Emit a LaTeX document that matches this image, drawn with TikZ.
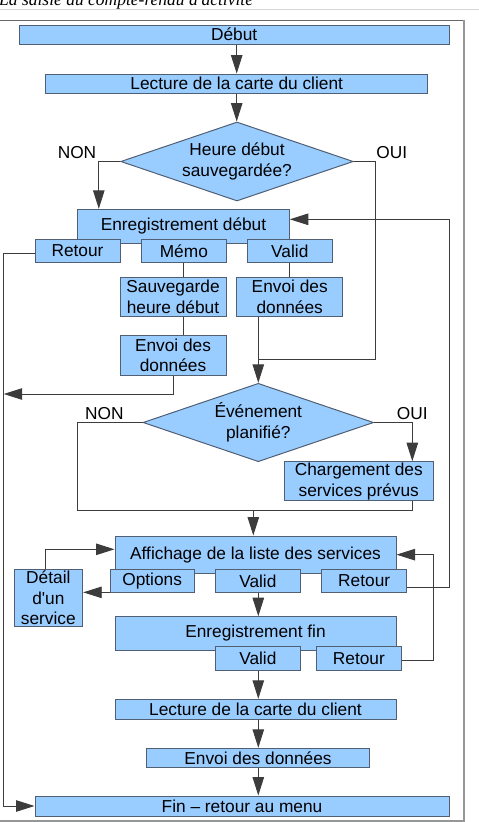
\documentclass[tikz,border=0pt]{standalone}
\usepackage{fontspec}
\setmainfont{Liberation Sans}
\newfontfamily\capfont{Liberation Serif}
\usetikzlibrary{arrows.meta,shapes.geometric}
\definecolor{boxc}{RGB}{153,204,255}
\definecolor{bordc}{RGB}{80,95,115}
\definecolor{linec}{RGB}{60,60,60}
\definecolor{framec}{RGB}{150,150,150}
\definecolor{sepc}{RGB}{215,215,215}
\newcommand{\fs}{\fontsize{17.3}{20.7}\selectfont}
\tikzset{
  box/.style={draw=bordc, fill=boxc, line width=1pt, inner sep=0pt, font=\fs, align=center},
  dia/.style={diamond, aspect=2.94, draw=bordc, fill=boxc, line width=1pt, inner sep=0pt, font=\fs, align=center},
  conn/.style={draw=linec, line width=0.9pt},
  arr/.style={conn, -{Triangle[length=18.5pt,width=11.5pt]}},
  lbl/.style={font=\fs, inner sep=0pt}
}
\begin{document}
\begin{tikzpicture}[x=1pt,y=-1pt]
\useasboundingbox (0,0) rectangle (479,822);
% caption and frame
\node[anchor=base west, inner sep=0pt, font=\capfont\itshape\fontsize{17.5}{21}\selectfont] (cap) at (-1,5) {La saisie du compte-rendu d'activité};
\draw[sepc, line width=1pt] (0,9.5) -- (479,9.5);
\draw[framec!70!black, line width=1pt] (-2,20.7) -- (464.3,20.7);
\draw[framec, line width=2pt] (464.3,20.2) -- (464.3,820.7) -- (-2,820.7);

% nodes
\node[box, minimum width=429.7pt, minimum height=19.3pt] (debut) at (234.2,34.7) {Début};
\node[box, minimum width=382pt, minimum height=19.3pt] (lect1) at (236.7,83.7) {Lecture de la carte du client};
\node[dia, minimum width=232.6pt, minimum height=79pt] (d1) at (237,161.5) {Heure début\\sauvegardée?};
\node[lbl] (non1) at (77,152.7) {NON};
\node[lbl] (oui1) at (391.7,152.7) {OUI};

\node[box, minimum width=211.6pt, minimum height=34pt] (enr1) at (183.5,226.3) {Enregistrement début};
\node[box, minimum width=85pt, minimum height=23.7pt] (ret1) at (77.5,250.85) {Retour};
\node[box, minimum width=84.3pt, minimum height=23.7pt] (memo) at (183.85,250.85) {Mémo};
\node[box, minimum width=85pt, minimum height=23.7pt] (valid1) at (289.8,250.85) {Valid};
\node[box, minimum width=106pt, minimum height=39.4pt] (sauv) at (173,297) {Sauvegarde\\heure début};
\node[box, minimum width=106pt, minimum height=39.4pt] (envoiA) at (289.7,297) {Envoi des\\données};
\node[box, minimum width=106pt, minimum height=39.3pt] (envoiB) at (173,355.35) {Envoi des\\données};

\node[dia, minimum width=230.6pt, minimum height=78.4pt] (d2) at (258.3,422.5) {Événement\\planifié?};
\node[lbl] (non2) at (104.3,413.3) {NON};
\node[lbl] (oui2) at (412.3,413.3) {OUI};
\node[box, minimum width=149pt, minimum height=39pt] (charg) at (358.8,481.2) {Chargement des\\services prévus};

\node[box, minimum width=281pt, minimum height=37.3pt] (aff) at (255.5,554.65) {Affichage de la liste des services};
\node[box, minimum width=84.3pt, minimum height=23.7pt] (opt) at (152.15,580.85) {Options};
\node[box, minimum width=84.3pt, minimum height=23.7pt] (valid2) at (257.85,580.85) {Valid};
\node[box, minimum width=85pt, minimum height=23.7pt] (ret2) at (364.2,580.85) {Retour};
\node[box, minimum width=68.7pt, minimum height=57.7pt] (detail) at (48.35,597.85) {Détail\\d\textquotesingle un\\service};

\node[box, minimum width=281pt, minimum height=33.3pt] (enrfin) at (255.5,633.35) {Enregistrement fin};
\node[box, minimum width=84.3pt, minimum height=24pt] (valid3) at (257.85,658.7) {Valid};
\node[box, minimum width=85.7pt, minimum height=24pt] (ret3) at (358.85,658.7) {Retour};

\node[box, minimum width=281pt, minimum height=20pt] (lect2) at (255.5,709.3) {Lecture de la carte du client};
\node[box, minimum width=222.6pt, minimum height=19pt] (envoiC) at (258,757.8) {Envoi des données};
\node[box, minimum width=414pt, minimum height=20pt] (fin) at (242,806) {Fin -- retour au menu};

% helper coordinates
\coordinate (j1) at (258.3,359.3);
\coordinate (jL) at (3.7,394);
\coordinate (j2) at (253.3,510);
\coordinate (o1) at ([yshift=-11.5pt]opt.west);

% connectors
\draw[arr] (debut.south -| lect1.north) -- (lect1.north);
\draw[arr] (lect1.south) -- (lect1.south |- d1.north);
\draw[arr] (d1.west) -| ([xshift=21.6pt]enr1.north west);
\draw[conn] (d1.east) -- ++(21.7,0) |- (j1);
\draw[arr] (envoiA.south -| j1) -- (j1 |- d2.north);
\draw[arr] ([yshift=-6.45pt]ret2.east) -- ++(42.3,0) |- ([yshift=7pt]enr1.east);
\draw[arr] ([yshift=-2.5pt]ret1.west) -- ++(-31.3,0) |- (fin.west);
\draw[conn] (memo.south) -- (memo.south |- sauv.north);
\draw[conn] (sauv.south -| memo.south) -- (memo.south |- envoiB.north);
\draw[arr] (envoiB.south) |- (jL);
\draw[conn] (valid1.south) -- (valid1.south |- envoiA.north);
\draw[conn] (d2.west) -| (77.7,510) -- (412.3,510) -- ([xshift=53.5pt]charg.south);
\draw[arr] (d2.east) -| ([xshift=53.5pt]charg.north);
\draw[arr] (j2) -- (j2 |- aff.north);
\draw[arr] ([xshift=-2.65pt]detail.north) |- ([yshift=5.35pt]aff.west);
\draw[arr] (o1) -- (o1 -| detail.east);
\draw[arr] (valid2.south -| j1) -- (j1 |- enrfin.north);
\draw[arr] ([yshift=-1.3pt]ret3.east) -- ++(31.6,0) |- (aff.east);
\draw[arr] (valid3.south -| j1) -- (j1 |- lect2.north);
\draw[arr] (lect2.south -| j1) -- (j1 |- envoiC.north);
\draw[arr] (envoiC.south -| j1) -- (j1 |- fin.north);
\end{tikzpicture}
\end{document}
